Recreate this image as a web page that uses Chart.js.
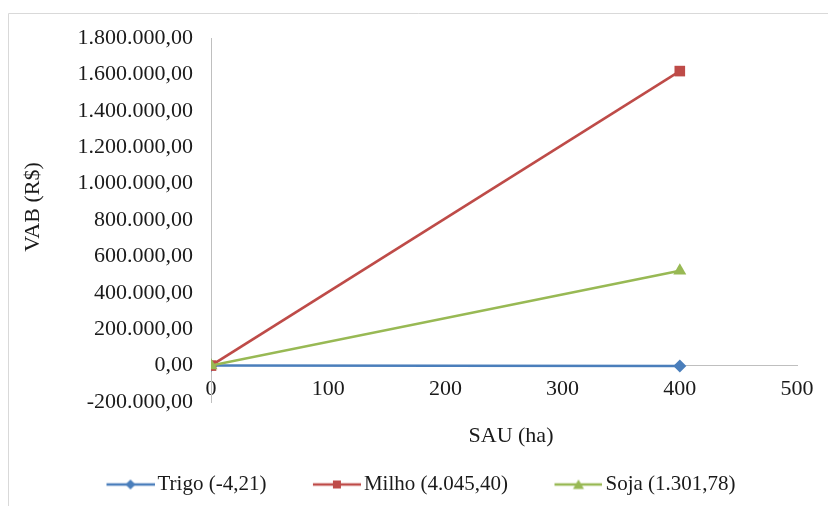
<!DOCTYPE html>
<html>
<head>
<meta charset="utf-8">
<script src="https://cdn.jsdelivr.net/npm/chart.js@4.4.1/dist/chart.umd.min.js"></script>
<style>
  html, body { margin: 0; padding: 0; background: #fff; }
  #wrap { width: 828px; height: 506px; position: relative; }
</style>
</head>
<body>
<div id="wrap"><canvas id="c" width="828" height="506"></canvas></div>
<script>
// SAU (ha) and VAB (R$) for each crop
const sau = [0, 400];
const trigo = [0, -1684];
const milho = [0, 1618160];
const soja = [0, 520712];
const seriesNames = ['Trigo (-4,21)', 'Milho (4.045,40)', 'Soja (1.301,78)'];
const xTicks = [0, 100, 200, 300, 400, 500];
const yMin = -200000, yMax = 1800000, yStep = 200000;

const colors = ['#4A7EBB', '#BE4B48', '#98B954'];
const markers = ['rectRot', 'rect', 'triangle'];
const markerRadius = [6.5, 7.5, 7.5];
const FONT = "'Liberation Serif', 'Times New Roman', serif";
const TEXT = '#1a1a1a';

function ptBR(v) {
  const neg = v < 0;
  const s = Math.abs(Math.round(v)).toString().replace(/\B(?=(\d{3})+(?!\d))/g, '.');
  return (neg ? '-' : '') + s + ',00';
}

function pts(ys) { return sau.map((x, i) => ({ x: x, y: ys[i] })); }

// legend swatch: blank lead-in, then a short line with the series marker in its middle
const SW_LEAD = 44, SW_LINE = 48, SW_BOX = 77;
function swatch(color, style) {
  const cv = document.createElement('canvas');
  cv.width = SW_LEAD + SW_LINE; cv.height = 16;
  const g = cv.getContext('2d');
  const x0 = SW_LEAD, cx = SW_LEAD + SW_LINE / 2;
  g.strokeStyle = color; g.lineWidth = 2.5;
  g.beginPath(); g.moveTo(x0, 8); g.lineTo(x0 + SW_LINE, 8); g.stroke();
  g.fillStyle = color;
  g.beginPath();
  if (style === 'rectRot') { g.moveTo(cx, 3); g.lineTo(cx + 5, 8); g.lineTo(cx, 13); g.lineTo(cx - 5, 8); }
  else if (style === 'rect') { g.rect(cx - 4, 4, 8, 8); }
  else { g.moveTo(cx, 3); g.lineTo(cx + 5.5, 12.5); g.lineTo(cx - 5.5, 12.5); }
  g.closePath(); g.fill();
  return cv;
}

const frame = {
  id: 'frame',
  afterDraw(chart) {
    const ctx = chart.ctx;
    ctx.save();
    ctx.strokeStyle = '#d9d9d9'; ctx.lineWidth = 1;
    ctx.beginPath();
    ctx.moveTo(8.5, 506); ctx.lineTo(8.5, 13.5); ctx.lineTo(828, 13.5);
    ctx.stroke();
    ctx.fillStyle = TEXT;
    ctx.font = '22px ' + FONT;
    ctx.textAlign = 'center'; ctx.textBaseline = 'middle';
    ctx.fillText('SAU (ha)', 511, 436);
    ctx.translate(33, 207);
    ctx.rotate(-Math.PI / 2);
    ctx.fillText('VAB (R$)', 0, 0);
    ctx.restore();
  }
};

const datasets = [trigo, milho, soja].map((ys, i) => ({
  label: seriesNames[i],
  data: pts(ys),
  borderColor: colors[i],
  backgroundColor: colors[i],
  borderWidth: 2.5,
  pointStyle: markers[i],
  pointRadius: markerRadius[i],
  pointHoverRadius: markerRadius[i],
  pointBorderWidth: 0,
  tension: 0,
  order: 3 - i
}));

const PAD_LEFT = 60, PAD_BOTTOM = 1;

new Chart(document.getElementById('c'), {
  type: 'line',
  data: { datasets: datasets },
  options: {
    responsive: false,
    animation: false,
    events: [],
    layout: { padding: { top: 38, right: 31, left: PAD_LEFT, bottom: PAD_BOTTOM } },
    plugins: {
      tooltip: { enabled: false },
      legend: {
        position: 'bottom',
        align: 'start',
        labels: {
          font: { family: FONT, size: 21 },
          color: TEXT,
          usePointStyle: true,
          pointStyleWidth: SW_BOX,
          padding: 10,
          generateLabels(chart) {
            return chart.data.datasets.map((d, i) => ({
              text: d.label,
              pointStyle: swatch(colors[i], markers[i]),
              fillStyle: colors[i],
              strokeStyle: colors[i],
              lineWidth: 0,
              fontColor: TEXT,
              hidden: false,
              datasetIndex: i
            }));
          }
        }
      }
    },
    scales: {
      x: {
        type: 'linear',
        position: { y: 0 },
        min: 0, max: 500,
        afterBuildTicks(s) { s.ticks = xTicks.map(v => ({ value: v })); },
        grid: { display: false, drawTicks: false },
        border: { display: true, color: '#bfbfbf', width: 1 },
        ticks: { font: { family: FONT, size: 22 }, color: TEXT, padding: 10, maxRotation: 0 }
      },
      // empty band between the plot and the legend, holding the axis title
      spacer: {
        type: 'linear',
        axis: 'x',
        position: 'bottom',
        afterFit(s) { s.height = 62; },
        grid: { display: false, drawTicks: false },
        border: { display: false },
        ticks: { display: false }
      },
      y: {
        type: 'linear',
        min: yMin, max: yMax,
        afterBuildTicks(s) {
          const t = [];
          for (let v = yMin; v <= yMax; v += yStep) t.push({ value: v });
          s.ticks = t;
        },
        afterFit(s) { s.width = 211 - PAD_LEFT; },
        grid: { display: false, drawTicks: false },
        border: { display: true, color: '#bfbfbf', width: 1 },
        ticks: { font: { family: FONT, size: 22 }, color: TEXT, padding: 18, callback: v => ptBR(v) }
      }
    }
  },
  plugins: [frame]
});
</script>
</body>
</html>
